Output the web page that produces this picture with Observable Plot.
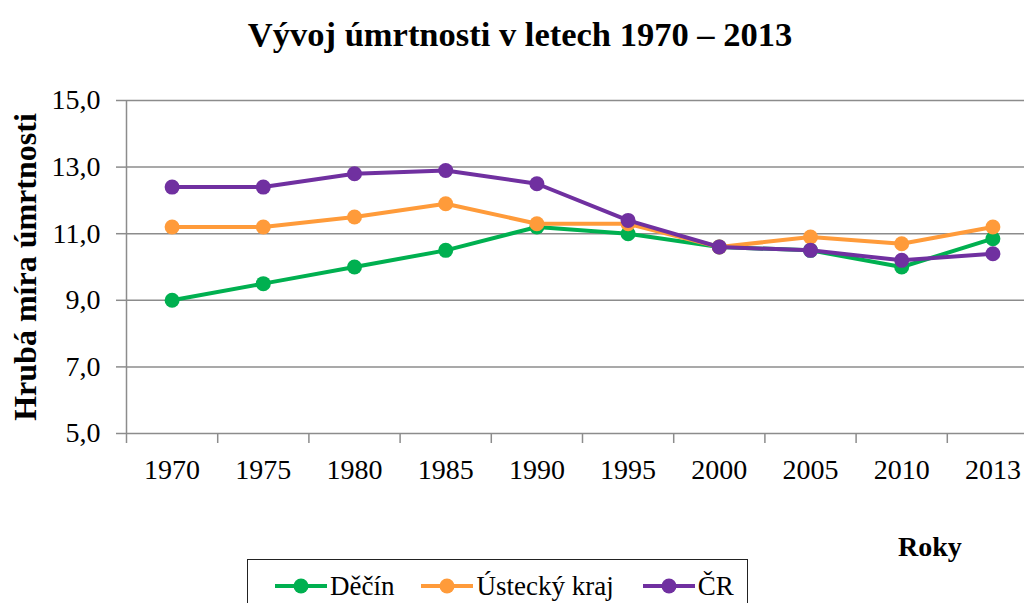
<!DOCTYPE html>
<html>
<head>
<meta charset="utf-8">
<script src="https://cdn.jsdelivr.net/npm/d3@7"></script>
<script src="https://cdn.jsdelivr.net/npm/@observablehq/plot@0.6"></script>
<style>
  html, body { margin: 0; padding: 0; background: white; overflow: hidden; width: 1024px; height: 603px; }
  body { position: relative; font-family: "Liberation Serif", "Times New Roman", serif; color: #000; }
  #title { position: absolute; left: 0; width: 1040px; top: 17px; text-align: center; font-size: 34.5px; font-weight: bold; line-height: 34.5px; white-space: nowrap; font-family: "Liberation Serif", serif; }
  #chart { position: absolute; left: 0; top: 70px; }
  #xlabel { position: absolute; left: 898px; top: 533px; font-size: 28px; font-weight: bold; line-height: 28px; font-family: "Liberation Serif", serif; }
  #legend { position: absolute; left: 247px; top: 559px; width: 501px; height: 60px; border: 1.5px solid #222; box-sizing: border-box; display: flex; flex-wrap: nowrap; align-items: flex-start; padding-left: 27px; padding-top: 10.5px; }
  .item { display: flex; flex-shrink: 0; align-items: center; font-size: 27px; line-height: 30px; height: 30px; margin-right: 27px; white-space: nowrap; font-family: "Liberation Serif", serif; }
  .item:nth-child(2) { margin-right: 29px; }
  .item svg { margin-right: 3px; flex-shrink: 0; }
</style>
</head>
<body>
<div id="title">Vývoj úmrtnosti v letech 1970 – 2013</div>
<div id="chart"></div>
<div id="xlabel">Roky</div>
<div id="legend"></div>
<script>
const years = ["1970", "1975", "1980", "1985", "1990", "1995", "2000", "2005", "2010", "2013"];
const decin = [9.0, 9.5, 10.0, 10.5, 11.2, 11.0, 10.6, 10.5, 10.0, 10.85];
const ustecky = [11.2, 11.2, 11.5, 11.9, 11.3, 11.3, 10.6, 10.9, 10.7, 11.2];
const cr = [12.4, 12.4, 12.8, 12.9, 12.5, 11.4, 10.6, 10.5, 10.2, 10.4];
const seriesNames = ["Děčín", "Ústecký kraj", "ČR"];
const seriesColors = ["#00B050", "#FF9B3A", "#7030A0"];
const yTicks = [5, 7, 9, 11, 13, 15];
const yTitle = "Hrubá míra úmrtnosti";

const seriesValues = [decin, ustecky, cr];
const fmt = d => d.toFixed(1).replace(".", ",");
const idx = d3.range(years.length);
const boundaries = d3.range(years.length + 1).map(i => i - 0.5);
const grey = "#8c8c8c";

const seriesMarks = seriesNames.flatMap((name, s) => {
  const rows = seriesValues[s].map((v, i) => ({i, v, name}));
  return [
    Plot.line(rows, {x: "i", y: "v", stroke: seriesColors[s], strokeWidth: 4}),
    Plot.dot(rows, {x: "i", y: "v", r: 7.5, fill: seriesColors[s], stroke: null})
  ];
});

const chart = Plot.plot({
  width: 1024,
  height: 420,
  marginTop: 30,
  marginBottom: 57,
  marginLeft: 126,
  marginRight: 0,
  x: {type: "linear", domain: [-0.5, years.length - 0.5], range: [126, 1038]},
  y: {domain: [5, 15]},
  style: {fontFamily: "'Liberation Serif', 'Times New Roman', serif", fontSize: "28px", color: "black", background: "transparent", overflow: "hidden"},
  marks: [
    Plot.gridY(yTicks, {stroke: grey, strokeOpacity: 1, strokeWidth: 1.5}),
    Plot.ruleX([-0.5], {stroke: grey, strokeWidth: 1.5}),
    Plot.axisY(yTicks, {tickSize: 10, tickPadding: 16, tickFormat: fmt, stroke: grey, strokeWidth: 1.5, label: null, fontSize: 28}),
    Plot.axisX(boundaries, {tickSize: 10, tickFormat: () => "", stroke: grey, strokeWidth: 1.5, label: null}),
    Plot.axisX(idx, {tickSize: 0, tickPadding: 26, tickFormat: i => years[i], label: null, fontSize: 28}),
    Plot.text([yTitle], {frameAnchor: "left", textAnchor: "middle", rotate: -90, dx: -101, fontWeight: "bold", fontSize: 32}),
    ...seriesMarks
  ]
});
document.getElementById("chart").appendChild(chart);

const legend = document.getElementById("legend");
seriesNames.forEach((name, s) => {
  const item = document.createElement("div");
  item.className = "item";
  const ns = "http://www.w3.org/2000/svg";
  const svg = document.createElementNS(ns, "svg");
  svg.setAttribute("width", 52);
  svg.setAttribute("height", 20);
  const line = document.createElementNS(ns, "line");
  line.setAttribute("x1", 0); line.setAttribute("x2", 52);
  line.setAttribute("y1", 10); line.setAttribute("y2", 10);
  line.setAttribute("stroke", seriesColors[s]); line.setAttribute("stroke-width", 4);
  const c = document.createElementNS(ns, "circle");
  c.setAttribute("cx", 26); c.setAttribute("cy", 10); c.setAttribute("r", 7.5);
  c.setAttribute("fill", seriesColors[s]);
  svg.appendChild(line); svg.appendChild(c);
  const span = document.createElement("span");
  span.textContent = name;
  item.appendChild(svg); item.appendChild(span);
  legend.appendChild(item);
});
</script>
</body>
</html>
